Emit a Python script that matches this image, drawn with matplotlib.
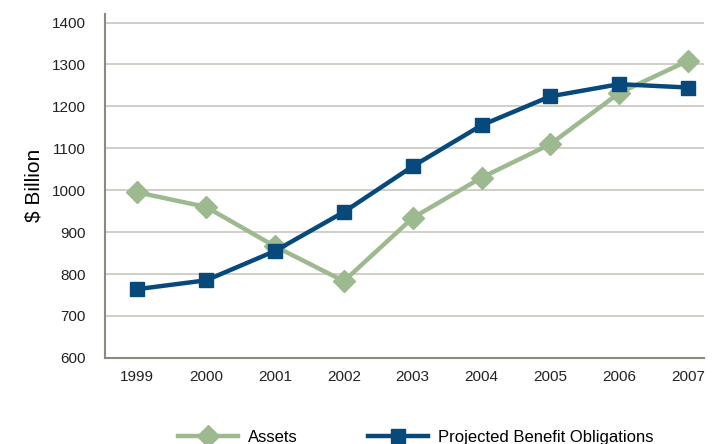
import matplotlib.pyplot as plt

years = ['1999', '2000', '2001', '2002', '2003', '2004', '2005', '2006', '2007']
assets = [995, 960, 866, 783, 934, 1030, 1110, 1232, 1309]
pbo = [764, 785, 855, 948, 1057, 1155, 1224, 1253, 1245]

plt.rcParams['font.family'] = ['Liberation Sans', 'DejaVu Sans']

fig = plt.figure(figsize=(7.19, 4.44), dpi=100)
ax = fig.add_axes([0.146, 0.194, 0.833, 0.775])

x = range(len(years))
ax.plot(x, assets, color='#9db98f', lw=3.2, marker='D', markersize=11,
        label='Assets', zorder=3)
ax.plot(x, pbo, color='#07497a', lw=3.2, marker='s', markersize=10.5,
        label='Projected Benefit Obligations', zorder=4)

ax.set_xlim(-0.47, 8.23)
ax.set_ylim(600, 1421)
ax.set_yticks(range(600, 1401, 100))
ax.set_xticks(list(x))
ax.set_xticklabels(years)
ax.tick_params(length=0, labelsize=11, colors='#222222')
ax.tick_params(axis='x', pad=9)
ax.tick_params(axis='y', pad=14)
ax.grid(True, axis='y', color='#c9c5bd', lw=1.2)
ax.set_axisbelow(True)
for s in ['top', 'right']:
    ax.spines[s].set_visible(False)
for s in ['left', 'bottom']:
    ax.spines[s].set_color('#8c8a80')
    ax.spines[s].set_linewidth(1.5)
ax.set_ylabel('$ Billion', fontsize=15, labelpad=6)

fig.legend(loc='lower center', bbox_to_anchor=(0.578, -0.035), ncol=2, frameon=False,
           fontsize=12, handlelength=3.6, handletextpad=0.6, columnspacing=4.2)

fig.savefig('out.png', dpi=100)
